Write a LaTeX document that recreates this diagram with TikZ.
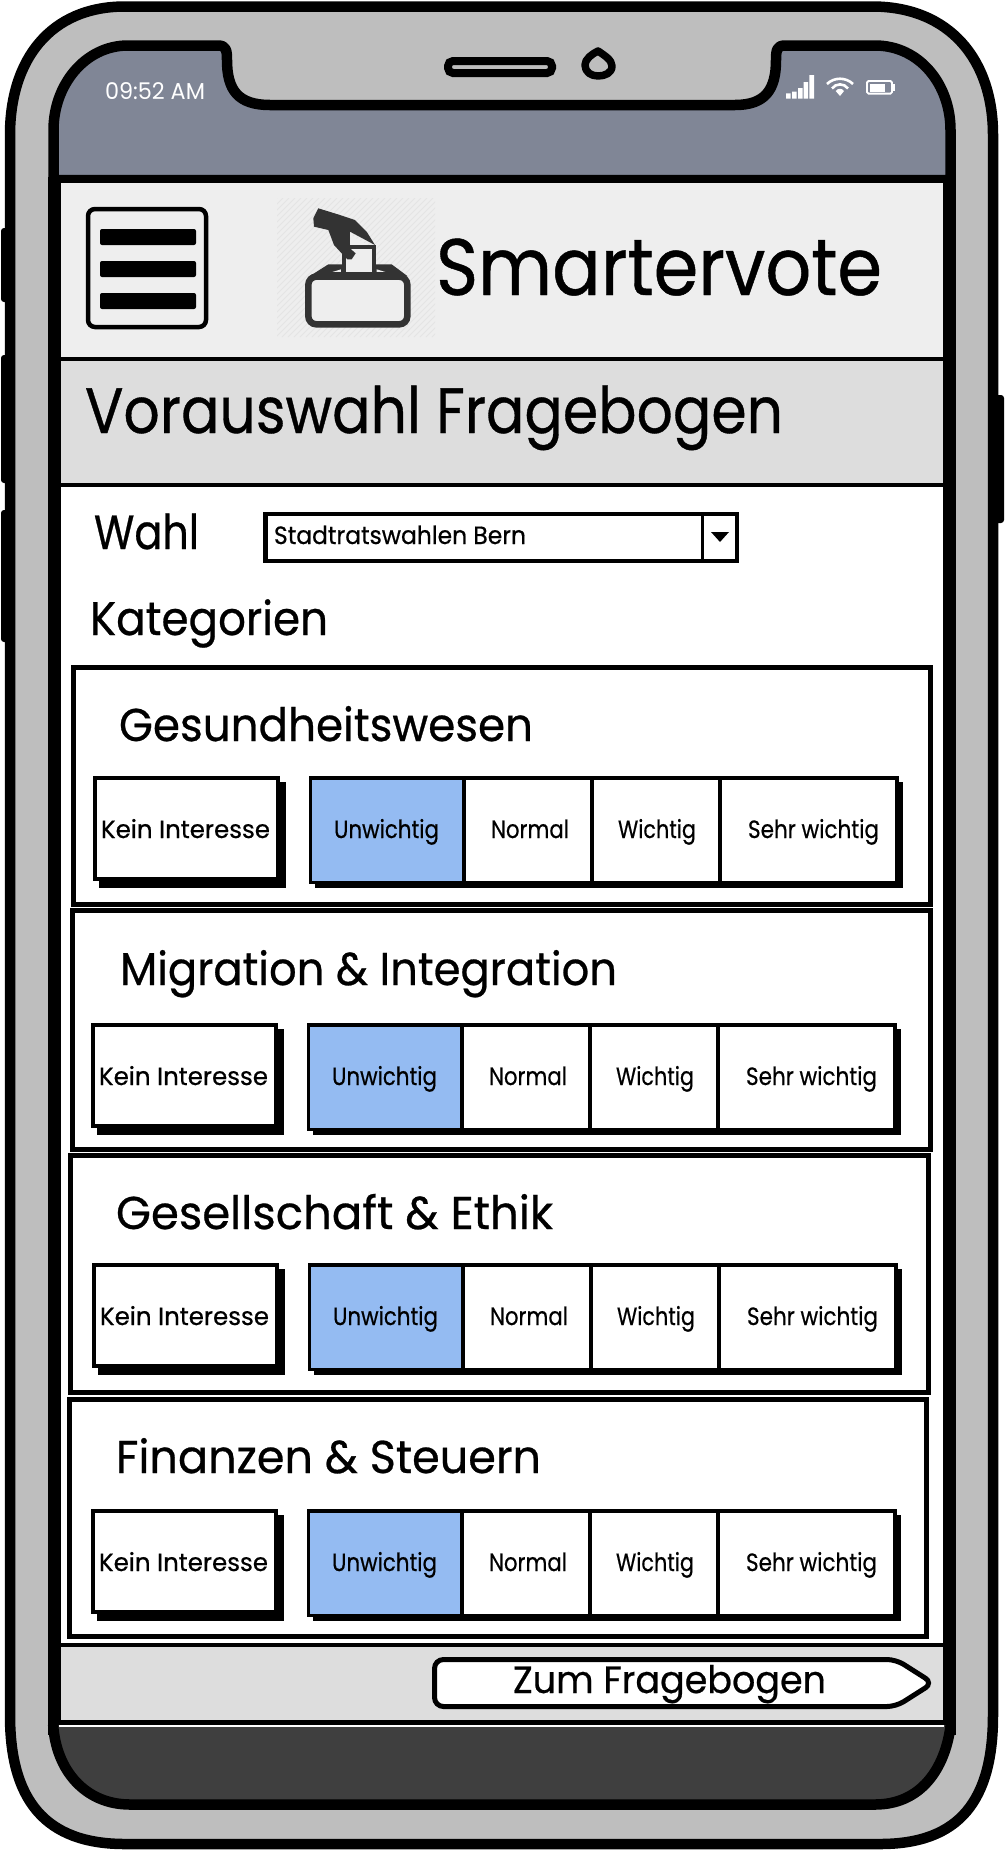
\documentclass[tikz,border=0pt]{standalone}
\usepackage{graphicx}
\usepackage{fontspec}
\setmainfont{Poppins}
\newfontfamily\heavier{Poppins}[FakeBold=0.6]
\definecolor{bodygray}{RGB}{190,190,190}
\definecolor{screenblue}{RGB}{128,134,150}
\definecolor{headgray}{RGB}{238,238,238}
\definecolor{panelgray}{RGB}{221,221,221}
\definecolor{darkbar}{RGB}{63,63,63}
\definecolor{selblue}{RGB}{148,187,242}
\definecolor{icondark}{RGB}{51,51,51}
\definecolor{hatchgray}{RGB}{228,228,228}
\tikzset{
  lbl/.style={anchor=base west,inner sep=0pt,outer sep=0pt,text=black},
  cardbox/.style={draw=black,line width=5pt,fill=white},
  btnbox/.style={draw=black,line width=4pt,fill=white},
  barline/.style={fill=black,rounded corners=2pt},
  whiteicon/.style={draw=white,line width=2.6pt}
}
% name, x, baseline y, width, font size, text
\newcommand{\lab}[6]{\node[lbl] (#1) at (#2,#3) {\resizebox{#4pt}{\height}{\heavier\fontsize{#5pt}{#5pt}\selectfont #6}};}
% id, card left, top, right, bottom, title x, baseline, width, title, kein x, button top
\newcommand{\card}[9]{%
  \def\cardid{#1}\def\cardL{#2}\def\cardT{#3}\def\cardR{#4}\def\cardB{#5}\def\titleX{#6}\def\titleB{#7}\def\titleW{#8}\def\titleT{#9}\cardrest}
\newcommand{\cardrest}[2]{%
  \draw[cardbox] (\cardL,\cardT) rectangle (\cardR,\cardB);
  \lab{\cardid title}{\titleX}{\titleB}{\titleW}{46}{\titleT}
  \begin{scope}[shift={(#1,#2)}]
    \fill[black] (6,6) rectangle (193,112);
    \draw[btnbox] (2,2) rectangle (185,103);
    \lab{\cardid kein}{8}{62}{169}{25}{Kein Interesse}
    \fill[black] (222,6) rectangle (810,112);
    \fill[white] (217,2) rectangle (804,106);
    \fill[selblue] (217,2) rectangle (370,106);
    \draw[black,line width=3.5pt] (217.5,106.5) -- (217.5,2) -- (804,2) -- (804,106.5) -- cycle;
    \draw[black,line width=4pt] (370.5,2) -- (370.5,106) (498.5,2) -- (498.5,106) (626.5,2) -- (626.5,106);
    \lab{\cardid a}{241}{62}{105}{25}{Unwichtig}
    \lab{\cardid b}{398}{62}{78}{25}{Normal}
    \lab{\cardid c}{525}{62}{78}{25}{Wichtig}
    \lab{\cardid d}{655}{62}{131}{25}{Sehr wichtig}
  \end{scope}}
\begin{document}
\begin{tikzpicture}[x=1pt,y=-1pt]
\useasboundingbox (0,0) rectangle (1004,1850);
\fill[white] (0,0) rectangle (1004,1850);
% side buttons
\fill[black,rounded corners=3pt] (1,228) rectangle (12,302);
\fill[black,rounded corners=3pt] (1,355) rectangle (12,483);
\fill[black,rounded corners=3pt] (1,510) rectangle (12,642);
\fill[black,rounded corners=3pt] (990,395) rectangle (1004,523);
% phone body
\draw[fill=bodygray,line width=10.5pt] (125,6.5) -- (872,6.5)
  .. controls (950,6.5) and (993,60) .. (993,135)
  -- (993,1715) .. controls (993,1800) and (960,1844) .. (880,1844)
  -- (125,1844) .. controls (45,1844) and (10,1800) .. (10,1715)
  -- (10,135) .. controls (10,60) and (50,6.5) .. (125,6.5) -- cycle;
% screen with notch
\draw[fill=screenblue,line width=10.5pt,line join=round] (53.5,180) -- (53.5,130)
  .. controls (53.5,85) and (85,45.5) .. (128,45.5)
  -- (218,45.5) .. controls (226,45.5) and (227,50) .. (227,60)
  .. controls (227,90) and (238,105) .. (270,105)
  -- (735,105) .. controls (765,105) and (776,90) .. (776,60)
  .. controls (776,50) and (777,45.5) .. (785,45.5)
  -- (875,45.5) .. controls (920,45.5) and (950.5,85) .. (950.5,130)
  -- (950.5,180) -- cycle;
% speaker and camera
\draw[fill=bodygray,line width=8pt,rounded corners=5pt] (448,61) rectangle (552,73);
\draw[black,line width=7.5pt,fill=bodygray,line join=round] (598,51) .. controls (604,55) and (612,60) .. (612,66)
  .. controls (612,73) and (605,76) .. (598,76) .. controls (591,76) and (585,72) .. (585,65)
  .. controls (585,59) and (592,54) .. (598,51) -- cycle;
% status bar
\node[lbl,text=white] (clock) at (105,99) {\resizebox{100pt}{\height}{\fontsize{23pt}{23pt}\selectfont 09:52 AM}};
\fill[white] (786,93.3) rectangle (790.7,98.7) (792,91.5) rectangle (796.5,98.7) (798,88) rectangle (802.5,98.7)
  (803.5,82) rectangle (808,98.7) (809.3,75) rectangle (814,98.7);
\draw[whiteicon] (827,84) .. controls (834,77) and (846,77) .. (853,84);
\draw[whiteicon] (832,88.5) .. controls (836,83) and (844,83) .. (848,88.5);
\fill[white] (835.7,91) .. controls (838,88) and (842,88) .. (844,91) -- (840,96) -- cycle;
\draw[white,line width=1.8pt,rounded corners=1.5pt] (867,81) rectangle (892,93.6);
\fill[white] (870,83.5) rectangle (885,91.5);
\fill[white] (893,84) rectangle (895,90.5);
% black frame behind panels
\fill[black] (48,177) rectangle (956,1735);
\fill[headgray] (61,183) rectangle (943,357);
\fill[panelgray] (61,361) rectangle (943,483);
\fill[white] (61,487) rectangle (943,1643);
\fill[panelgray] (61,1647) rectangle (943,1720);
% bottom bar
\path[fill=darkbar,draw=black,line width=10.5pt] (53.2,1725)
  .. controls (56,1770) and (85,1804.5) .. (130,1804.5)
  -- (875,1804.5) .. controls (920,1804.5) and (945,1770) .. (950.7,1725);
\fill[white] (59,1725) rectangle (944,1726.5);
% hamburger
\draw[black,line width=4.5pt,rounded corners=7pt] (88,209) rectangle (206,327);
\fill[barline] (100,229) rectangle (196,245);
\fill[barline] (100,261) rectangle (196,277);
\fill[barline] (100,293) rectangle (196,309);
% logo
\begin{scope}
  \clip (277,198) rectangle (435,337);
  \foreach \k in {0,6,...,300} {\draw[hatchgray,line width=1pt] (277+\k-139,337) -- (277+\k,198);}
\end{scope}
\begin{scope}[shift={(260,190)},x=0.3333pt,y=-0.3333pt]
  \fill[icondark] (150,258) -- (205,223) -- (395,223) -- (442,258) -- cycle;
  \draw[icondark,line width=6.5pt,rounded corners=8pt,fill=headgray] (145,260) rectangle (442,403);
  \fill[headgray] (217,246) -- (243,238) -- (243,246) -- cycle (350,238) -- (376,246) -- (350,246) -- cycle;
  \fill[icondark] (245,165) rectangle (348,260);
  \fill[headgray] (258,178) rectangle (335,246);
  \fill[icondark] (175,55) -- (160,85) -- (162,110) -- (205,120) -- (222,165) -- (245,190) -- (262,208)
    -- (275,208) -- (287,190) -- (270,175) -- (270,125) -- (345,165) -- (320,125) -- (285,90) -- (240,75) -- cycle;
  \fill[headgray] (271,135) -- (271,165) -- (322,165) -- cycle;
\end{scope}
\lab{brand}{436}{295}{446}{80}{Smartervote}
\lab{heading}{85}{433}{698}{64}{Vorauswahl Fragebogen}
\lab{wahl}{94}{549}{105}{48}{Wahl}
% dropdown
\draw[btnbox,line width=4.5pt] (265.5,514) rectangle (737,561);
\draw[black,line width=3pt] (702.5,514) -- (702.5,561);
\fill[black] (711,532) -- (729,532) -- (720,542) -- cycle;
\lab{drop}{274}{544}{252}{25}{Stadtratswahlen Bern}
\lab{kat}{90}{635}{238}{47}{Kategorien}
% cards
\card{ca}{73.5}{667.5}{930.5}{904.5}{119}{741}{414}{Gesundheitswesen}{93}{776}
\card{cb}{72.5}{910.5}{930}{1149}{120}{985}{497}{Migration \& Integration}{91}{1023}
\card{cc}{70.5}{1155.5}{928}{1392}{116}{1229}{437}{Gesellschaft \& Ethik}{92}{1263}
\card{cd}{69}{1399}{926.5}{1636}{116}{1473}{425}{Finanzen \& Steuern}{91}{1509}
% next button
\draw[fill=white,line width=5pt,rounded corners=9pt] (434.5,1659.5) -- (896,1659.5) -- (933,1683) -- (896,1706.5) -- (434.5,1706.5) -- cycle;
\lab{zum}{513}{1693}{313}{38}{Zum Fragebogen}
\end{tikzpicture}
\end{document}
